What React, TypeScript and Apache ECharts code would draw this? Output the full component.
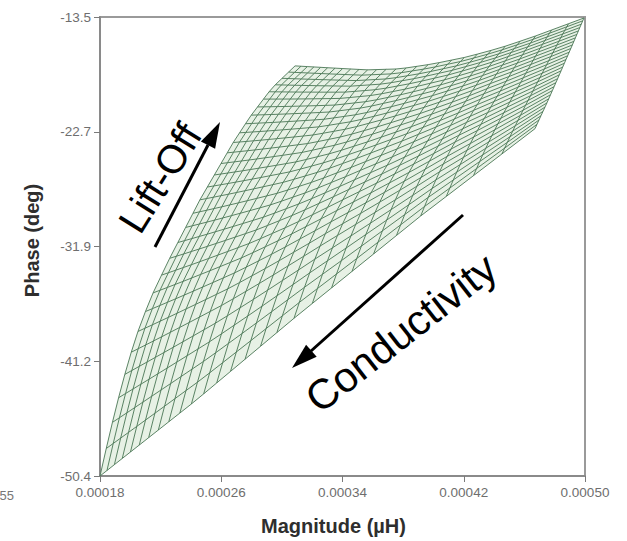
import React, { useEffect, useRef } from 'react';
import * as echarts from 'echarts';

// Axis ticks
const xTickValues = [0.00018, 0.00026, 0.00034, 0.00042, 0.0005];
const xTickLabels = ['0.00018', '0.00026', '0.00034', '0.00042', '0.00050'];
const yTickValues = [-50.4, -41.175, -31.95, -22.725, -13.5];
const yTickLabels = ['-50.4', '-41.2', '-31.9', '-22.7', '-13.5'];

// Boundary curves of the impedance mesh (Magnitude, Phase)
const bottomEdgeX = [0.00018, 0.0002427, 0.0003087, 0.0003911, 0.000467];
const bottomEdgeY = [-50.4, -44.38, -37.65, -29.54, -22.48];
const topEdgeX = [0.0003087, 0.0003318, 0.0003562, 0.0003779, 0.0003997, 0.0004221, 0.0004439, 0.0004657, 0.0004993];
const topEdgeY = [-17.43, -17.59, -17.75, -17.67, -17.27, -16.71, -15.99, -15.1, -13.58];
const leftEdgeX = [0.00018, 0.0001866, 0.0001945, 0.0002031, 0.000213, 0.0002249, 0.000246, 0.0002678, 0.000279, 0.0002935, 0.0003087];
const leftEdgeY = [-50.4, -46.87, -43.02, -39.41, -36.2, -33.15, -28.18, -23.61, -21.52, -19.2, -17.43];
const rightEdgeX = [0.000467, 0.0004749, 0.0004822, 0.0004908, 0.0004993];
const rightEdgeY = [-22.48, -20.4, -18.39, -15.99, -13.58];

// Constant-conductivity curves: where each meets the bottom and top edges (Magnitude)
const condLineBottomX = [0.00018, 0.0001846, 0.0001895, 0.0001947, 0.0002001, 0.0002059, 0.0002121, 0.0002185, 0.0002254, 0.0002327, 0.0002403, 0.0002484, 0.000257, 0.0002661, 0.0002757, 0.0002859, 0.0002967, 0.000308, 0.0003201, 0.0003328, 0.0003463, 0.0003605, 0.0003756, 0.0003916, 0.0004085, 0.0004264, 0.0004452, 0.000467];
const condLineTopX = [0.0003087, 0.0003126, 0.0003168, 0.0003211, 0.0003256, 0.0003302, 0.0003351, 0.0003401, 0.0003454, 0.0003509, 0.0003566, 0.0003626, 0.0003688, 0.0003753, 0.0003821, 0.0003891, 0.0003965, 0.0004041, 0.0004121, 0.0004204, 0.000429, 0.0004381, 0.0004474, 0.0004572, 0.0004674, 0.000478, 0.0004891, 0.0004993];

// Constant lift-off curves: where each meets the left and right edges (Phase)
const liftLineLeftY = [-50.4, -48.19, -46.09, -44.11, -42.23, -40.45, -38.78, -37.18, -35.68, -34.25, -32.9, -31.63, -30.42, -29.28, -28.2, -27.17, -26.2, -25.28, -24.42, -23.59, -22.81, -22.08, -21.39, -20.73, -20.1, -19.51, -18.95, -18.43, -17.93, -17.43];
const liftLineRightY = [-22.48, -22.13, -21.78, -21.44, -21.09, -20.75, -20.41, -20.08, -19.75, -19.42, -19.1, -18.78, -18.46, -18.15, -17.83, -17.53, -17.22, -16.92, -16.62, -16.33, -16.03, -15.75, -15.46, -15.18, -14.9, -14.62, -14.35, -14.08, -13.81, -13.58];

function atX(xs: number[], ys: number[], x: number): number[] {
  for (let k = 0; k < xs.length - 1; k++) {
    if (x <= xs[k + 1] + 1e-12 || k === xs.length - 2) {
      const t = (x - xs[k]) / (xs[k + 1] - xs[k]);
      return [x, ys[k] + t * (ys[k + 1] - ys[k])];
    }
  }
  return [x, ys[ys.length - 1]];
}
function atY(xs: number[], ys: number[], y: number): number[] {
  for (let k = 0; k < ys.length - 1; k++) {
    if (y <= ys[k + 1] + 1e-9 || k === ys.length - 2) {
      const t = (y - ys[k]) / (ys[k + 1] - ys[k]);
      return [xs[k] + t * (xs[k + 1] - xs[k]), y];
    }
  }
  return [xs[xs.length - 1], y];
}

function buildMesh() {
  const NA = condLineBottomX.length;
  const NB = liftLineLeftY.length;
  const B = condLineBottomX.map((x) => atX(bottomEdgeX, bottomEdgeY, x));
  const T = condLineTopX.map((x) => atX(topEdgeX, topEdgeY, x));
  const L = liftLineLeftY.map((y) => atY(leftEdgeX, leftEdgeY, y));
  const R = liftLineRightY.map((y) => atY(rightEdgeX, rightEdgeY, y));
  const P00 = B[0], P10 = B[NA - 1], P01 = T[0], P11 = T[NA - 1];
  const us = B.map((b, i) => 0.5 * ((b[0] - B[0][0]) / (B[NA - 1][0] - B[0][0]) + (T[i][0] - T[0][0]) / (T[NA - 1][0] - T[0][0])));
  const vs = L.map((l, j) => 0.5 * ((l[1] - L[0][1]) / (L[NB - 1][1] - L[0][1]) + (R[j][1] - R[0][1]) / (R[NB - 1][1] - R[0][1])));
  const nodes: number[][][] = [];
  for (let i = 0; i < NA; i++) {
    const row: number[][] = [];
    const u = us[i];
    for (let j = 0; j < NB; j++) {
      const v = vs[j];
      const p = [0, 1].map((c) =>
        (1 - v) * B[i][c] + v * T[i][c] + (1 - u) * L[j][c] + u * R[j][c] -
        ((1 - u) * (1 - v) * P00[c] + u * (1 - v) * P10[c] + (1 - u) * v * P01[c] + u * v * P11[c])
      );
      row.push(p);
    }
    nodes.push(row);
  }
  const famA = nodes.map((row) => ({ coords: row }));
  const famB: { coords: number[][] }[] = [];
  for (let j = 0; j < NB; j++) famB.push({ coords: nodes.map((row) => row[j]) });
  return { famA, famB };
}

function outline(): number[][] {
  const pts: number[][] = [];
  leftEdgeX.forEach((x, k) => pts.push([x, leftEdgeY[k]]));
  topEdgeX.forEach((x, k) => pts.push([x, topEdgeY[k]]));
  for (let k = rightEdgeX.length - 1; k >= 0; k--) pts.push([rightEdgeX[k], rightEdgeY[k]]);
  for (let k = bottomEdgeX.length - 1; k >= 0; k--) pts.push([bottomEdgeX[k], bottomEdgeY[k]]);
  return pts;
}

function lookup(values: number[], labels: string[], v: number): string {
  for (let k = 0; k < values.length; k++) {
    if (Math.abs(values[k] - v) < Math.abs(values[values.length - 1] - values[0]) * 1e-3) return labels[k];
  }
  return '';
}

const FONT = 'Liberation Sans, Arial, sans-serif';

export default function App() {
  const ref = useRef<HTMLDivElement>(null);
  useEffect(() => {
    if (!ref.current) return;
    const chart = echarts.init(ref.current, null, { renderer: 'svg' });
    const { famA, famB } = buildMesh();
    const poly = outline();
    chart.setOption({
      animation: false,
      backgroundColor: '#ffffff',
      grid: { left: 100, right: 42, top: 17, bottom: 64, show: true, borderColor: '#9a9a9a', borderWidth: 2, backgroundColor: 'transparent' },
      xAxis: {
        type: 'value',
        min: 0.00018,
        max: 0.0005,
        name: 'Magnitude (µH)',
        nameLocation: 'middle',
        nameGap: 40,
        nameTextStyle: { fontFamily: FONT, fontSize: 20, fontWeight: 'bold', color: '#2e2e2e', padding: [0, 18, 0, 0] },
        axisLine: { show: true, lineStyle: { color: '#8a8a8a', width: 2 } },
        axisTick: { show: true, customValues: xTickValues, length: 6, lineStyle: { color: '#7a7a7a', width: 1 } },
        axisLabel: {
          customValues: xTickValues,
          formatter: (v: number) => lookup(xTickValues, xTickLabels, v),
          color: '#6e6e6e',
          fontFamily: FONT,
          fontSize: 13.5,
          margin: 9,
        },
        splitLine: { show: false },
      },
      yAxis: {
        type: 'value',
        min: -50.4,
        max: -13.5,
        name: 'Phase (deg)',
        nameLocation: 'middle',
        nameRotate: 90,
        nameGap: 58,
        nameTextStyle: { fontFamily: FONT, fontSize: 20, fontWeight: 'bold', color: '#2e2e2e', padding: [0, 0, 0, 12] },
        axisLine: { show: true, lineStyle: { color: '#8a8a8a', width: 2 } },
        axisTick: { show: true, customValues: yTickValues, length: 6, lineStyle: { color: '#7a7a7a', width: 1 } },
        axisLabel: {
          customValues: yTickValues,
          formatter: (v: number) => lookup(yTickValues, yTickLabels, v),
          color: '#6e6e6e',
          fontFamily: FONT,
          fontSize: 13.5,
          margin: 9,
        },
        splitLine: { show: false },
      },
      series: [
        {
          type: 'custom',
          coordinateSystem: 'cartesian2d',
          silent: true,
          z: 1,
          data: [[0.00018, -50.4]],
          renderItem: (_p: any, api: any) => ({
            type: 'polygon',
            shape: { points: poly.map((p) => api.coord(p)) },
            style: { fill: '#e7f1e5', stroke: 'none' },
          }),
        },
        {
          type: 'lines',
          coordinateSystem: 'cartesian2d',
          polyline: true,
          silent: true,
          z: 3,
          lineStyle: { color: '#4a7655', width: 0.9, opacity: 1 },
          data: famA,
        },
        {
          type: 'lines',
          coordinateSystem: 'cartesian2d',
          polyline: true,
          silent: true,
          z: 3,
          lineStyle: { color: '#4a7655', width: 0.9, opacity: 1 },
          data: famB,
        },
      ],
      graphic: [
        { type: 'text', x: 14, y: 495, style: { text: '55', fill: '#777', font: `13px ${FONT}`, align: 'right', verticalAlign: 'middle' } },
        {
          type: 'text', x: 160, y: 178, rotation: (58 * Math.PI) / 180,
          style: { text: 'Lift-Off', fill: '#000', font: `40px ${FONT}`, align: 'center', verticalAlign: 'middle' },
        },
        {
          type: 'text', x: 401, y: 333, rotation: (38 * Math.PI) / 180,
          style: { text: 'Conductivity', fill: '#000', font: `42px ${FONT}`, align: 'center', verticalAlign: 'middle' },
        },
        { type: 'line', shape: { x1: 155, y1: 247, x2: 208, y2: 145 }, style: { stroke: '#000', lineWidth: 3 } },
        { type: 'polygon', shape: { points: [[220, 122], [215.1, 148.8], [200.9, 141.4]] }, style: { fill: '#000' } },
        { type: 'line', shape: { x1: 463, y1: 215, x2: 311, y2: 351 }, style: { stroke: '#000', lineWidth: 3 } },
        { type: 'polygon', shape: { points: [[292, 368], [316.7, 356.7], [306.1, 344.7]] }, style: { fill: '#000' } },
      ],
    });
    return () => chart.dispose();
  }, []);
  return <div ref={ref} style={{ position: 'fixed', left: 0, top: 0, width: 627, height: 541 }} />;
}
